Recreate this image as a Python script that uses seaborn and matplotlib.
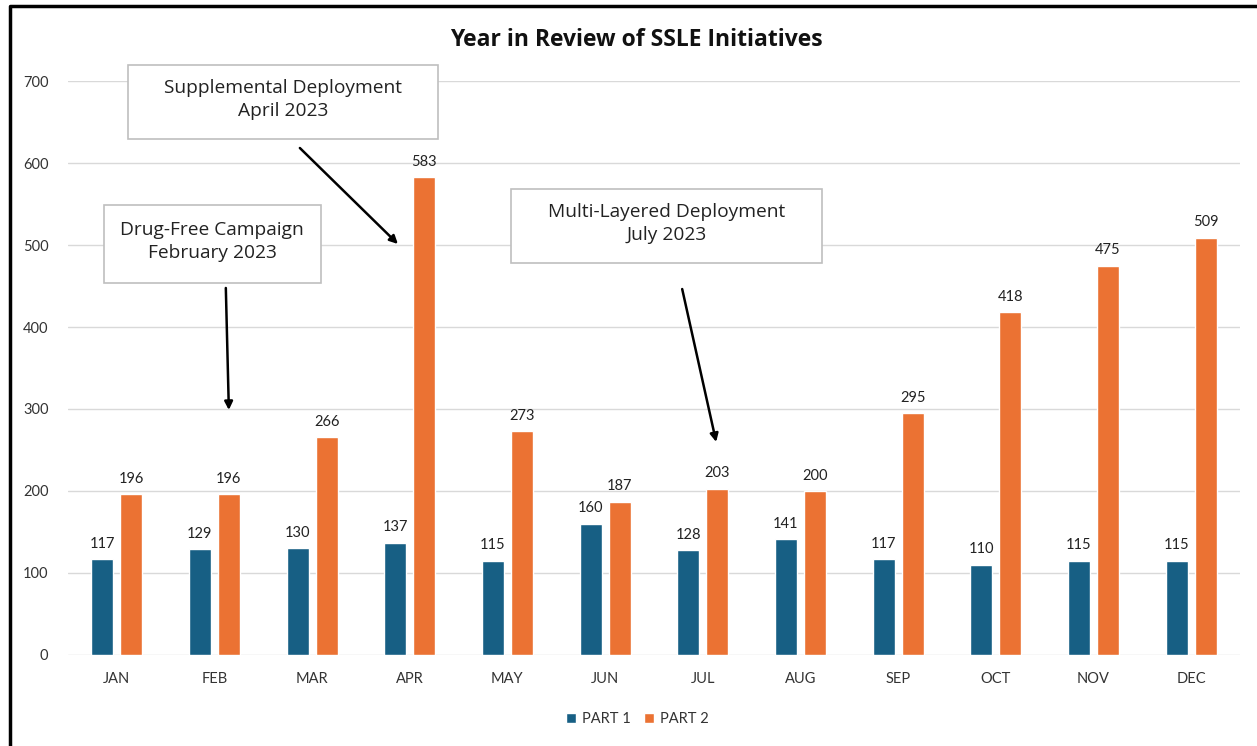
import pandas as pd
import numpy as np
import seaborn as sns
import matplotlib.pyplot as plt
from matplotlib.lines import Line2D
from matplotlib.patches import Rectangle

# Monthly counts for the two parts
months = ["JAN", "FEB", "MAR", "APR", "MAY", "JUN", "JUL", "AUG", "SEP", "OCT", "NOV", "DEC"]
part1 = [117, 129, 130, 137, 115, 160, 128, 141, 117, 110, 115, 115]
part2 = [196, 196, 266, 583, 273, 187, 203, 200, 295, 418, 475, 509]
series_names = ["PART 1", "PART 2"]
colors = ["#175F84", "#EB7233"]

df = pd.DataFrame({
    "month": months * 2,
    "value": part1 + part2,
    "part": [series_names[0]] * len(months) + [series_names[1]] * len(months),
})

sns.set_style("white")
plt.rcParams["font.family"] = ["Lato", "DejaVu Sans"]

fig = plt.figure(figsize=(12.57, 7.46), dpi=100)
ax = fig.add_axes([0.054, 0.122, 0.9325, 0.7694])

sns.barplot(data=df, x="month", y="value", hue="part", palette=colors,
            width=0.594, gap=0.24, ax=ax, saturation=1, legend=True)

for c in ax.containers:
    ax.bar_label(c, padding=6, fontsize=10.5, color="#222222")

ax.set_ylim(0, 700)
ax.set_xlim(-0.5, 11.5)
ax.set_yticks(range(0, 701, 100))
ax.yaxis.grid(True, color="#d9d9d9", lw=1)
ax.set_axisbelow(True)
sns.despine(ax=ax, left=True, bottom=True)
ax.tick_params(axis="both", length=0, labelsize=10.5, colors="#333333")
ax.tick_params(axis="y", pad=14)
ax.tick_params(axis="x", pad=12)
ax.set_xlabel("")
ax.set_ylabel("")

fig.text(0.506, 0.946, "Year in Review of SSLE Initiatives", ha="center", va="center",
         fontsize=16.5, fontweight="bold", color="#111111", family=["Open Sans", "DejaVu Sans"])

leg = ax.legend(loc="upper center", bbox_to_anchor=(0.486, -0.076), ncol=2, frameon=False,
                fontsize=10.5, handlelength=0.7, handleheight=0.7, handletextpad=0.4,
                columnspacing=0.9)
for t in leg.get_texts():
    t.set_color("#333333")

# Annotation boxes (in data coords: x = category index, y = value)
boxes = [
    ((0.113, 629.3), 3.176, 90.2, "Supplemental Deployment\nApril 2023"),
    ((-0.133, 453.7), 2.223, 95.1, "Drug-Free Campaign\nFebruary 2023"),
    ((4.037, 478.0), 3.186, 90.3, "Multi-Layered Deployment\nJuly 2023"),
]
for (x0, y0), w, h, label in boxes:
    ax.add_patch(Rectangle((x0, y0), w, h, facecolor="white", edgecolor="#bfbfbf",
                           lw=1.2, clip_on=False, zorder=5))
    ax.text(x0 + w / 2, y0 + h / 2 + 3, label, ha="center", va="center", fontsize=13.8,
            color="#222222", linespacing=1.4, zorder=6, family=["Open Sans", "DejaVu Sans"])

arrows = [
    ((1.875, 618.3), (2.879, 501.2)),
    ((1.117, 447.6), (1.148, 298.8)),
    ((5.789, 446.3), (6.137, 259.8)),
]
for start, end in arrows:
    ax.annotate("", xy=end, xytext=start,
                arrowprops=dict(arrowstyle="-|>", color="black", lw=1.8,
                                mutation_scale=12, shrinkA=0, shrinkB=0),
                annotation_clip=False, zorder=6)

# Outer frame (left and top edges visible in the screenshot)
bx = 10 / 1257
by = 1 - 6 / 746
fig.add_artist(Line2D([bx, bx, 1], [0, by, by], transform=fig.transFigure,
                      color="black", lw=2.5))

fig.savefig("out.png", dpi=100)
